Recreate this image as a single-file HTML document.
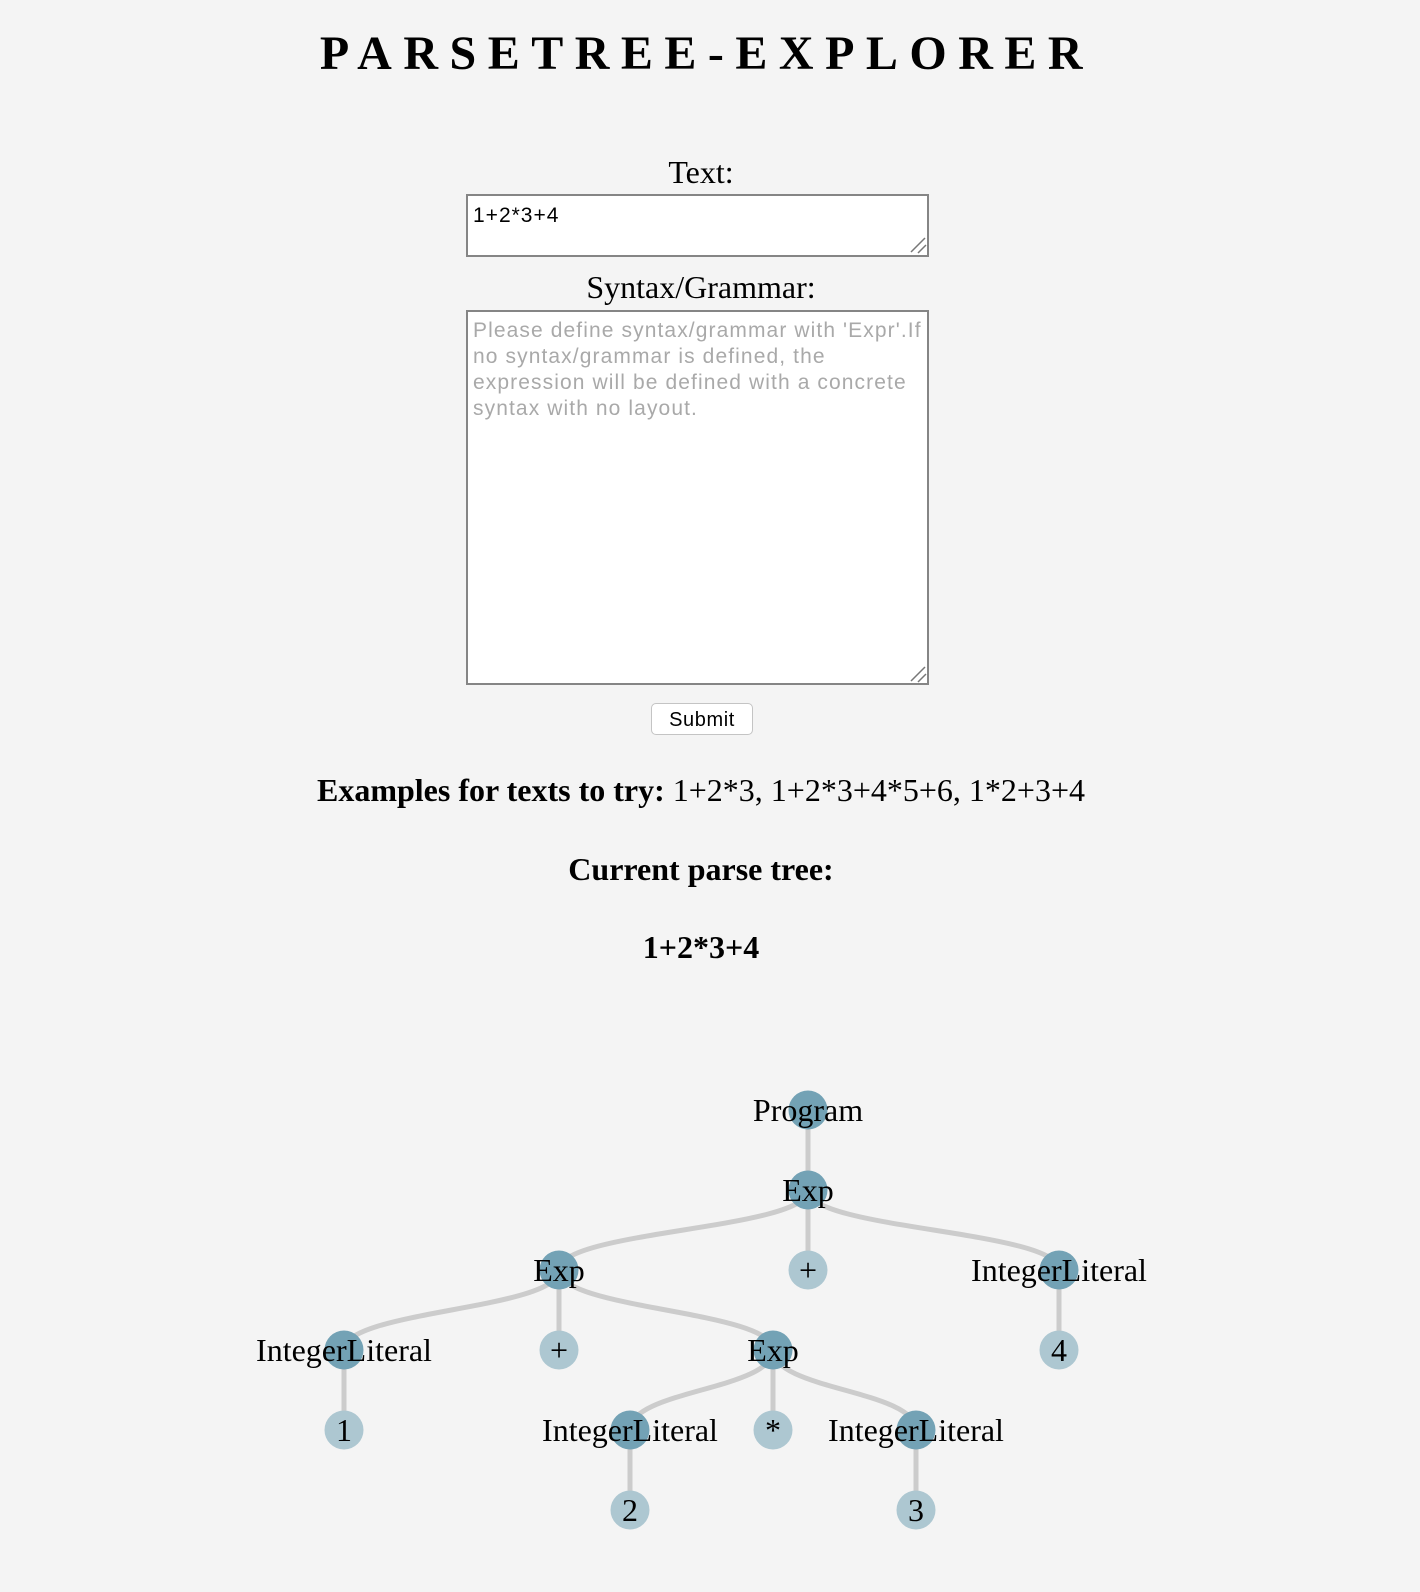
<!DOCTYPE html>
<html><head><meta charset="utf-8"><style>
html,body{margin:0;padding:0;background:#f4f4f4;width:1420px;height:1592px;overflow:hidden;font-family:"Liberation Serif",serif;color:#000}
.c{position:absolute;left:0;width:1402px;text-align:center;white-space:nowrap;line-height:1}
.box{position:absolute;background:#fff;border:2px solid #858585;box-sizing:border-box}
.sans{font-family:"Liberation Sans",sans-serif}
</style></head><body>
<div class="c" style="top:30px;font-size:48px;font-weight:bold;letter-spacing:11.5px;padding-left:6px;">PARSETREE-EXPLORER</div>
<div class="c" style="top:156px;font-size:32px;">Text:</div>
<div class="box" style="left:466px;top:194px;width:463px;height:63px;"></div>
<div class="sans" style="position:absolute;left:473px;top:204px;font-size:21px;letter-spacing:1px;">1+2*3+4</div>
<div class="c" style="top:271px;font-size:32px;">Syntax/Grammar:</div>
<div class="box" style="left:466px;top:310px;width:463px;height:375px;"></div>
<div class="sans" style="position:absolute;left:473px;top:318px;font-size:21px;letter-spacing:1.1px;line-height:26px;color:#a9a9a9;white-space:nowrap;">Please define syntax/grammar with 'Expr'.If<br>no syntax/grammar is defined, the<br>expression will be defined with a concrete<br>syntax with no layout.</div>
<svg style="position:absolute;left:0;top:0" width="1420" height="1592">
<path d="M911 252 L925 238 M918 253 L926 245" stroke="#777" stroke-width="1.5"/>
<path d="M911 681 L925 667 M918 682 L926 674" stroke="#777" stroke-width="1.5"/>
</svg>
<div class="sans" style="position:absolute;left:651px;top:703px;width:102px;height:32px;box-sizing:border-box;background:#fff;border:1px solid #c4c4c4;border-radius:5px;font-size:20px;letter-spacing:0.6px;text-align:center;line-height:32px;">Submit</div>
<div class="c" style="top:774px;font-size:32px;"><b>Examples for texts to try:</b> 1+2*3, 1+2*3+4*5+6, 1*2+3+4</div>
<div class="c" style="top:853px;font-size:32px;font-weight:bold;">Current parse tree:</div>
<div class="c" style="top:931px;font-size:32px;font-weight:bold;">1+2*3+4</div>
<svg style="position:absolute;left:0;top:0" width="1420" height="1592" font-family="Liberation Serif, serif" font-size="32">
<g fill="none" stroke="#cccccc" stroke-width="5">
<path d="M808 1110 L808 1190"/>
<path d="M808 1190 C808 1230 559 1230 559 1270"/>
<path d="M808 1190 L808 1270"/>
<path d="M808 1190 C808 1230 1059 1230 1059 1270"/>
<path d="M559 1270 C559 1310 344 1310 344 1350"/>
<path d="M559 1270 L559 1350"/>
<path d="M559 1270 C559 1310 773 1310 773 1350"/>
<path d="M1059 1270 L1059 1350"/>
<path d="M344 1350 L344 1430"/>
<path d="M773 1350 C773 1390 630 1390 630 1430"/>
<path d="M773 1350 L773 1430"/>
<path d="M773 1350 C773 1390 916 1390 916 1430"/>
<path d="M630 1430 L630 1510"/>
<path d="M916 1430 L916 1510"/>
</g>
<g fill="#73a2b5">
<circle cx="808" cy="1110" r="19.5"/><circle cx="808" cy="1190" r="19.5"/>
<circle cx="559" cy="1270" r="19.5"/><circle cx="1059" cy="1270" r="19.5"/>
<circle cx="344" cy="1350" r="19.5"/><circle cx="773" cy="1350" r="19.5"/>
<circle cx="630" cy="1430" r="19.5"/><circle cx="916" cy="1430" r="19.5"/>
</g>
<g fill="#adc7d1">
<circle cx="808" cy="1270" r="19.5"/><circle cx="559" cy="1350" r="19.5"/>
<circle cx="1059" cy="1350" r="19.5"/><circle cx="344" cy="1430" r="19.5"/>
<circle cx="773" cy="1430" r="19.5"/><circle cx="630" cy="1510" r="19.5"/>
<circle cx="916" cy="1510" r="19.5"/>
</g>
<g text-anchor="middle" fill="#000">
<text x="808" y="1121">Program</text>
<text x="808" y="1201">Exp</text>
<text x="559" y="1281">Exp</text>
<text x="808" y="1281">+</text>
<text x="1059" y="1281">IntegerLiteral</text>
<text x="344" y="1361">IntegerLiteral</text>
<text x="559" y="1361">+</text>
<text x="773" y="1361">Exp</text>
<text x="1059" y="1361">4</text>
<text x="344" y="1441">1</text>
<text x="630" y="1441">IntegerLiteral</text>
<text x="773" y="1441">*</text>
<text x="916" y="1441">IntegerLiteral</text>
<text x="630" y="1521">2</text>
<text x="916" y="1521">3</text>
</g>
</svg>
</body></html>
